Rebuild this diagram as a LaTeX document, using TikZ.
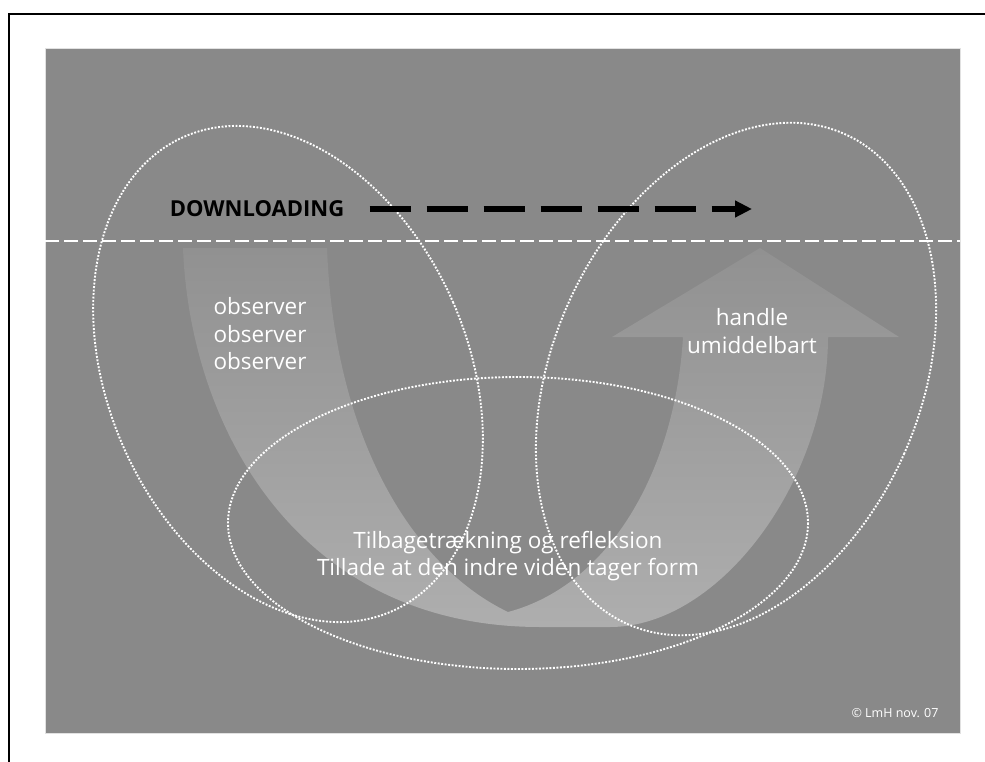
\documentclass[tikz,border=0pt]{standalone}
\usepackage{fontspec}
\setmainfont{Open Sans}
\usepackage{xcolor}
\usetikzlibrary{positioning,calc,arrows.meta}
\definecolor{bg}{RGB}{137,137,137}
\definecolor{bandtop}{RGB}{145,145,145}
\definecolor{bandbot}{RGB}{174,174,174}
\begin{document}
\begin{tikzpicture}[x=1pt, y=-1pt,
        dotline/.style={draw=white, line width=1.9pt, dash pattern=on 1.9pt off 1.6pt},
        lbl/.style={text=white, align=center, font=\fontsize{22.5}{27.5}\selectfont},
        >={Triangle[length=17pt, width=16pt]}
    ]
        \useasboundingbox (0,0) rectangle (985,762);
        % Frame and background
        \draw[line width=2pt] (9,762) -- (9,14) -- (985,14);
        \fill[bg] (45,48) rectangle (960,733);
        \draw[white!75!bg, line width=0.8pt] (45,48) rectangle (960,733);

        % U-band with arrow head
        \shade[top color=bandtop, bottom color=bandbot]
            (183,248) .. controls (190,430) and (300,627) .. (540,627)
            -- (610,627) .. controls (720,627) and (828,480) .. (828,337)
            -- (899,337) -- (760,248) -- (612,337) -- (683,337)
            .. controls (675,470) and (610,585) .. (508,612)
            .. controls (420,570) and (335,450) .. (327,248) -- cycle;

        % Dashed border line
        \draw[white, line width=2pt, dash pattern=on 14pt off 5pt] (45,241) -- (960,241);

        % Dotted ellipses
        \draw[dotline, rotate around={23.6:(288,374)}] (288,374) ellipse [x radius=180, y radius=259];
        \draw[dotline, rotate around={-23.8:(736,379)}] (736,379) ellipse [x radius=184, y radius=268];
        \draw[dotline] (518,523) ellipse [x radius=290, y radius=146];

        % Labels
        \node[font=\fontsize{22}{27}\selectfont\bfseries] (dl) at (257,209) {DOWNLOADING};
        \coordinate (dlend) at (752,209);
        \node[lbl] (obs) at (260,334) {observer\\observer\\observer};
        \node[lbl] (act) at (752,331) {handle\\umiddelbart};
        \node[lbl] (refl) at (508,556) {Tilbagetrækning og refleksion\\Tillade at den indre viden tager form};
        \node[text=white, font=\fontsize{12.5}{15}\selectfont] (copy) at (895,713) {© LmH nov. 07};

        \draw[->, line width=5.5pt, dash pattern=on 41pt off 16pt] ([xshift=22pt]dl.east) -- (dlend);
    \end{tikzpicture}
\end{document}
